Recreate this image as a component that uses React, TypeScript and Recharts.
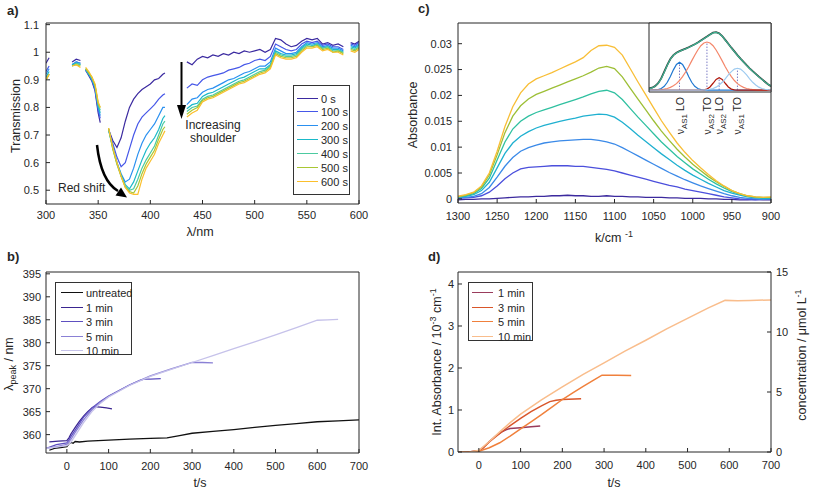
import React from "react";
import { LineChart, Line, XAxis, YAxis, ReferenceLine } from "recharts";

// ---------- panel a: transmission spectra ----------
const wavelengths = [
  300, 303, 310, 325, 329, 333, 336, 338, 341, 344, 347, 350, 352, 356,
  360, 364, 368, 372, 376, 380, 384, 388, 392, 396, 400, 404, 408, 412, 414, 425,
  435, 440, 445, 450, 455, 460, 465, 470, 475, 480, 485, 490, 495, 500, 505, 510, 515,
  520, 525, 530, 535, 540, 545, 550, 555, 560, 565, 570, 575, 580, 585, 590, 592, 596, 600,
];
const spectraNames = ["0 s", "100 s", "200 s", "300 s", "400 s", "500 s", "600 s"];
const trans0 = [
  0.96, 0.98, null, 0.965, 0.975, 0.97, null, 0.935, 0.915, 0.895, 0.86, 0.78, 0.745, null,
  0.72, 0.68, 0.655, 0.69, 0.75, 0.8, 0.83, 0.85, 0.865, 0.875, 0.885, 0.9, 0.905, 0.92, 0.925, null,
  0.965, 0.955, 0.975, 0.985, 0.98, 0.99, 0.985, 0.995, 0.99, 1.0, 0.995, 1.005, 1.0, 1.005, 1.01, 1.0, 1.01,
  1.05, 1.045, 1.03, 1.02, 1.025, 1.04, 1.05, 1.045, 1.05, 1.03, 1.035, 1.025, 1.03, 1.02, null, 1.035, 1.03, 1.04,
];
const trans100 = [
  0.93, 0.95, null, 0.955, 0.965, 0.96, null, 0.935, 0.92, 0.9, 0.865, 0.79, 0.76, null,
  0.72, 0.67, 0.62, 0.585, 0.6, 0.65, 0.7, 0.74, 0.765, 0.78, 0.795, 0.81, 0.83, 0.845, 0.85, null,
  0.87, 0.885, 0.88, 0.9, 0.91, 0.915, 0.92, 0.925, 0.935, 0.94, 0.945, 0.955, 0.96, 0.97, 0.975, 0.97, 0.985,
  1.03, 1.02, 1.01, 1.005, 1.01, 1.03, 1.04, 1.035, 1.04, 1.025, 1.03, 1.02, 1.02, 1.01, null, 1.03, 1.025, 1.035,
];
const trans200 = [
  0.92, 0.94, null, 0.955, 0.965, 0.96, null, 0.935, 0.92, 0.9, 0.87, 0.8, 0.77, null,
  0.72, 0.66, 0.6, 0.56, 0.53, 0.54, 0.58, 0.63, 0.67, 0.7, 0.72, 0.74, 0.77, 0.8, 0.8, null,
  0.81, 0.83, 0.835, 0.855, 0.865, 0.87, 0.88, 0.89, 0.9, 0.905, 0.915, 0.925, 0.93, 0.94, 0.95, 0.95, 0.965,
  1.015, 1.005, 0.995, 0.995, 1.0, 1.02, 1.035, 1.03, 1.035, 1.02, 1.025, 1.015, 1.015, 1.005, null, 1.025, 1.02, 1.03,
];
const trans300 = [
  0.91, 0.93, null, 0.955, 0.96, 0.955, null, 0.94, 0.92, 0.905, 0.875, 0.805, 0.78, null,
  0.72, 0.655, 0.6, 0.555, 0.52, 0.505, 0.53, 0.57, 0.61, 0.645, 0.67, 0.69, 0.72, 0.76, 0.77, null,
  0.795, 0.81, 0.815, 0.84, 0.85, 0.855, 0.865, 0.875, 0.885, 0.895, 0.905, 0.91, 0.92, 0.93, 0.94, 0.94, 0.955,
  1.005, 0.995, 0.99, 0.99, 0.995, 1.015, 1.03, 1.025, 1.03, 1.015, 1.02, 1.01, 1.01, 1.0, null, 1.02, 1.015, 1.025,
];
const trans400 = [
  0.9, 0.92, null, 0.95, 0.96, 0.955, null, 0.94, 0.925, 0.905, 0.88, 0.81, 0.79, null,
  0.72, 0.65, 0.595, 0.55, 0.515, 0.5, 0.505, 0.54, 0.58, 0.61, 0.635, 0.66, 0.7, 0.74, 0.75, null,
  0.785, 0.8, 0.805, 0.83, 0.84, 0.845, 0.855, 0.865, 0.875, 0.885, 0.895, 0.9, 0.91, 0.92, 0.93, 0.935, 0.95,
  1.0, 0.99, 0.985, 0.985, 0.99, 1.01, 1.025, 1.02, 1.03, 1.015, 1.02, 1.005, 1.005, 1.0, null, 1.015, 1.01, 1.02,
];
const trans500 = [
  0.9, 0.92, null, 0.95, 0.955, 0.95, null, 0.94, 0.925, 0.91, 0.88, 0.815, 0.8, null,
  0.725, 0.65, 0.595, 0.55, 0.51, 0.495, 0.49, 0.515, 0.56, 0.595, 0.62, 0.645, 0.685, 0.72, 0.73, null,
  0.775, 0.79, 0.8, 0.825, 0.835, 0.84, 0.85, 0.86, 0.87, 0.88, 0.89, 0.895, 0.905, 0.915, 0.925, 0.93, 0.945,
  0.995, 0.985, 0.98, 0.98, 0.985, 1.005, 1.02, 1.02, 1.025, 1.01, 1.015, 1.0, 1.005, 0.995, null, 1.01, 1.005, 1.015,
];
const trans600 = [
  0.9, 0.92, null, 0.95, 0.955, 0.945, null, 0.945, 0.93, 0.91, 0.885, 0.82, 0.8, null,
  0.725, 0.655, 0.6, 0.55, 0.51, 0.49, 0.485, 0.485, 0.54, 0.58, 0.605, 0.63, 0.67, 0.7, 0.715, null,
  0.765, 0.78, 0.79, 0.82, 0.83, 0.835, 0.845, 0.855, 0.865, 0.875, 0.885, 0.89, 0.9, 0.91, 0.92, 0.925, 0.94,
  0.99, 0.98, 0.975, 0.975, 0.98, 1.0, 1.015, 1.015, 1.02, 1.005, 1.01, 1.0, 1.0, 0.99, null, 1.005, 1.0, 1.01,
];
const transTicksX = [300, 350, 400, 450, 500, 550, 600];
const transTicksY = [0.5, 0.6, 0.7, 0.8, 0.9, 1, 1.1];

// ---------- panel c: IR absorbance ----------
const wavenumbers = [
  1300, 1290, 1280, 1270, 1260, 1250, 1240, 1230, 1220, 1210,
  1200, 1190, 1180, 1170, 1160, 1150, 1140, 1130, 1120, 1110,
  1100, 1090, 1080, 1070, 1060, 1050, 1040, 1030, 1020, 1010,
  1000, 990, 980, 970, 960, 950, 940, 930, 920, 910, 900,
];
const abs0 = [
  -0.0002, -0.0001, -0.0001, 0.0, 0.0, 0.0001, 0.0002, 0.0003, 0.0004, 0.0004,
  0.0005, 0.0005, 0.0006, 0.0006, 0.0007, 0.0006, 0.0006, 0.0005, 0.0005, 0.0006,
  0.0005, 0.0005, 0.0004, 0.0004, 0.0003, 0.0003, 0.0003, 0.0002, 0.0002, 0.0001,
  0.0001, 0.0001, 0.0, 0.0, -0.0001, -0.0001, -0.0002, -0.0002, -0.0001, -0.0002, -0.0002,
];
const abs100 = [
  0.0001, 0.0002, 0.0003, 0.0006, 0.0013, 0.0025, 0.0039, 0.005, 0.0058, 0.0061,
  0.0062, 0.0063, 0.0064, 0.0064, 0.0064, 0.0063, 0.0063, 0.0061, 0.0059, 0.0057,
  0.0054, 0.005, 0.0046, 0.0042, 0.0038, 0.0034, 0.003, 0.0026, 0.0023, 0.0019,
  0.0016, 0.0013, 0.001, 0.0007, 0.0004, 0.0002, 0.0, -0.0001, -0.0002, -0.0001, -0.0001,
];
const abs200 = [
  0.0002, 0.0003, 0.0005, 0.001, 0.0022, 0.0042, 0.0063, 0.008, 0.0092, 0.0099,
  0.0104, 0.0108, 0.011, 0.0112, 0.0113, 0.0114, 0.0115, 0.0115, 0.0113, 0.011,
  0.0106, 0.0099, 0.0091, 0.0083, 0.0075, 0.0067, 0.0059, 0.0051, 0.0044, 0.0037,
  0.0031, 0.0025, 0.002, 0.0015, 0.001, 0.0006, 0.0003, 0.0001, 0.0, -0.0001, 0.0,
];
const abs300 = [
  0.0003, 0.0005, 0.0008, 0.0016, 0.0032, 0.006, 0.0088, 0.0108, 0.0121, 0.013,
  0.0137, 0.0142, 0.0146, 0.015, 0.0153, 0.0156, 0.016, 0.0162, 0.0164, 0.0163,
  0.0158, 0.0148, 0.0136, 0.0123, 0.0111, 0.0099, 0.0087, 0.0076, 0.0065, 0.0055,
  0.0046, 0.0038, 0.003, 0.0023, 0.0016, 0.0011, 0.0007, 0.0004, 0.0002, 0.0001, 0.0001,
];
const abs400 = [
  0.0004, 0.0006, 0.001, 0.002, 0.004, 0.0075, 0.011, 0.0135, 0.015, 0.016,
  0.0167, 0.0172, 0.0177, 0.0182, 0.0187, 0.0192, 0.0197, 0.0203, 0.0208, 0.021,
  0.0205, 0.0192, 0.0175, 0.0158, 0.0142, 0.0126, 0.011, 0.0096, 0.0082, 0.007,
  0.0058, 0.0048, 0.0038, 0.0029, 0.0021, 0.0014, 0.0009, 0.0005, 0.0003, 0.0002, 0.0002,
];
const abs500 = [
  0.0004, 0.0007, 0.0012, 0.0023, 0.0046, 0.0085, 0.0128, 0.016, 0.018, 0.0193,
  0.0202, 0.0208, 0.0214, 0.022, 0.0226, 0.0232, 0.0238, 0.0245, 0.0253, 0.0256,
  0.0252, 0.0236, 0.0214, 0.0193, 0.0172, 0.0151, 0.0131, 0.0113, 0.0096, 0.0081,
  0.0067, 0.0055, 0.0043, 0.0033, 0.0024, 0.0016, 0.001, 0.0006, 0.0004, 0.0003, 0.0003,
];
const abs600 = [
  0.0005, 0.0008, 0.0013, 0.0025, 0.005, 0.0092, 0.014, 0.0178, 0.0205, 0.0222,
  0.0232, 0.0238, 0.0244, 0.0251, 0.0258, 0.0265, 0.0273, 0.0287, 0.0296, 0.0297,
  0.0293, 0.0278, 0.0252, 0.0226, 0.0201, 0.0176, 0.0151, 0.0129, 0.0108, 0.009,
  0.0074, 0.006, 0.0047, 0.0035, 0.0025, 0.0016, 0.001, 0.0006, 0.0004, 0.0003, 0.0004,
];
const absTicksX = [1300, 1250, 1200, 1150, 1100, 1050, 1000, 950, 900];
const absTicksY = [0, 0.005, 0.01, 0.015, 0.02, 0.025, 0.03];

// inset: band fit
const insetMeasured = [
  0.0008, 0.0012, 0.002, 0.0035, 0.006, 0.0095, 0.013, 0.016, 0.018, 0.0192,
  0.02, 0.0207, 0.0213, 0.022, 0.0228, 0.0236, 0.0245, 0.0255, 0.0265, 0.0275,
  0.0286, 0.0295, 0.0298, 0.0292, 0.0278, 0.0258, 0.0238, 0.0218, 0.0199, 0.018,
  0.0162, 0.0145, 0.0128, 0.0112, 0.0097, 0.0083, 0.0069, 0.0056, 0.0043, 0.003, 0.002,
];
const insetFit = [
  0.0006, 0.0011, 0.0019, 0.0034, 0.0058, 0.0092, 0.0128, 0.0158, 0.0179, 0.0191,
  0.0199, 0.0206, 0.0212, 0.0219, 0.0227, 0.0235, 0.0244, 0.0254, 0.0264, 0.0274,
  0.0285, 0.0294, 0.0297, 0.0291, 0.0277, 0.0257, 0.0237, 0.0217, 0.0198, 0.0179,
  0.0161, 0.0144, 0.0127, 0.0111, 0.0096, 0.0082, 0.0068, 0.0055, 0.0042, 0.003, 0.0021,
];
const bandLoAs1 = [
  0, 0, 0.0001, 0.0003, 0.0008, 0.0019, 0.004, 0.007, 0.0104, 0.0132,
  0.0143, 0.0132, 0.0104, 0.007, 0.004, 0.0019, 0.0008, 0.0003, 0.0001, 0,
  0, 0, 0, 0, 0, 0, 0, 0, 0, 0,
  0, 0, 0, 0, 0, 0, 0, 0, 0, 0, 0,
];
const bandToAs2 = [
  0, 0, 0, 0.0001, 0.0003, 0.0005, 0.0008, 0.0014, 0.0022, 0.0033,
  0.0049, 0.0069, 0.0093, 0.012, 0.015, 0.0179, 0.0206, 0.0228, 0.0242, 0.0247,
  0.0242, 0.0228, 0.0206, 0.0179, 0.015, 0.012, 0.0093, 0.0069, 0.0049, 0.0033,
  0.0022, 0.0014, 0.0008, 0.0005, 0.0003, 0.0001, 0, 0, 0, 0, 0,
];
const bandLoAs2 = [
  0, 0, 0, 0, 0, 0, 0, 0, 0, 0,
  0, 0, 0, 0, 0, 0, 0, 0, 0.0001, 0.0005,
  0.0016, 0.0035, 0.0055, 0.0064, 0.0055, 0.0035, 0.0016, 0.0005, 0.0001, 0,
  0, 0, 0, 0, 0, 0, 0, 0, 0, 0, 0,
];
const bandToAs1 = [
  0, 0, 0, 0, 0, 0, 0, 0, 0, 0,
  0, 0, 0, 0, 0, 0, 0, 0, 0.0001, 0.0002,
  0.0004, 0.0008, 0.0015, 0.0026, 0.004, 0.0058, 0.0078, 0.0095, 0.0108, 0.0112,
  0.0108, 0.0095, 0.0078, 0.0058, 0.004, 0.0026, 0.0015, 0.0008, 0.0004, 0.0002, 0.0001,
];
const bandCentres = [1200, 1110, 1070, 1010];
const bandModes = ["LO", "TO", "LO", "TO"];
const bandSymmetry = ["AS1", "AS2", "AS2", "AS1"];
const insetTopTicks = [1200, 1110, 1020, 930];
const insetTicksY = [0.01, 0.02, 0.03];

// ---------- panel b: peak position ----------
const peakNames = ["untreated", "1 min", "3 min", "5 min", "10 min"];
const peakTimes = [
  [-42, -30, -15, 0, 5, 10, 15, 20, 30, 50, 75, 100, 150, 200, 240, 270, 300, 350, 400, 450, 500, 550, 600, 650, 700],
  [-42, -20, 0, 5, 10, 20, 30, 40, 50, 60, 65, 80, 95, 108],
  [-50, -25, 0, 5, 10, 20, 40, 60, 80, 100, 125, 150, 175, 185, 200, 225],
  [-50, -25, 0, 10, 20, 40, 60, 80, 100, 150, 200, 250, 300, 325, 350],
  [-50, -25, 0, 10, 20, 40, 60, 80, 100, 150, 200, 250, 300, 350, 400, 450, 500, 550, 600, 625, 650],
];
const peakValues = [
  [356.6, 357.0, 357.2, 357.4, 358.0, 358.3, 358.1, 358.5, 358.4, 358.6, 358.7, 358.8, 359.0, 359.2, 359.3, 359.8, 360.3, 360.7, 361.1, 361.6, 362.0, 362.4, 362.8, 363.0, 363.2],
  [358.4, 358.6, 358.7, 359.3, 360.2, 361.6, 362.9, 364.0, 365.0, 365.8, 366.1, 366.0, 365.8, 365.6],
  [357.0, 357.8, 358.2, 358.8, 359.6, 361.0, 363.8, 365.8, 367.2, 368.4, 369.6, 370.8, 371.8, 372.1, 372.1, 372.2],
  [357.0, 357.4, 357.9, 359.0, 360.5, 363.2, 365.4, 367.0, 368.3, 370.8, 372.8, 374.3, 375.7, 375.7, 375.6],
  [357.0, 357.3, 357.6, 358.4, 359.8, 362.6, 365.0, 366.8, 368.2, 370.7, 372.7, 374.2, 375.7, 377.2, 378.7, 380.2, 381.7, 383.3, 384.9, 385.0, 385.1],
];
const timeTicks = [0, 100, 200, 300, 400, 500, 600, 700];
const peakTicksY = [360, 365, 370, 375, 380, 385, 390, 395];

// ---------- panel d: integrated absorbance ----------
const intNames = ["1 min", "3 min", "5 min", "10 min"];
const intTimes = [
  [-50, -25, 0, 10, 25, 40, 55, 65, 75, 100, 125, 147],
  [-50, -25, 0, 10, 25, 50, 75, 100, 125, 150, 170, 185, 200, 245],
  [-50, -25, 0, 25, 50, 75, 100, 125, 150, 175, 200, 225, 250, 275, 295, 330, 365],
  [-50, -25, 0, 25, 50, 75, 100, 150, 200, 250, 300, 350, 400, 450, 500, 550, 590, 620, 650, 700],
];
const intValues = [
  [0, 0, 0.03, 0.1, 0.25, 0.38, 0.48, 0.53, 0.56, 0.58, 0.6, 0.62],
  [0, 0, 0.03, 0.1, 0.24, 0.44, 0.63, 0.8, 0.96, 1.1, 1.2, 1.23, 1.25, 1.27],
  [0, 0, 0.02, 0.1, 0.22, 0.38, 0.55, 0.72, 0.89, 1.07, 1.25, 1.41, 1.56, 1.71, 1.83, 1.83, 1.82],
  [0, -0.01, 0.04, 0.25, 0.48, 0.7, 0.9, 1.24, 1.55, 1.85, 2.12, 2.4, 2.66, 2.93, 3.18, 3.43, 3.61, 3.6, 3.61, 3.62],
];
const intTicksY = [0, 1, 2, 3, 4];
const concTicksY = [0, 5, 10, 15];

// ---------- styling ----------
const FONT = '"Liberation Sans", Arial, Helvetica, sans-serif';
const INK = "#262626";
const spectraColors = ["#3b2aa0", "#4657e8", "#2a90f0", "#1ab9c9", "#4ccaa0", "#a9c733", "#fbbf2c"];
const absColors = ["#3c2a9e", "#4b4fdc", "#3b8ae8", "#1fb0d0", "#2fc0a0", "#9dbf36", "#f8be36"];
const peakColors = ["#111111", "#3a2590", "#5e50c0", "#8a80d5", "#c6c2ea"];
const intColors = ["#9a3c5c", "#d9562a", "#f0803c", "#f9bd8c"];
const bandColors = ["#1f77d0", "#f4866a", "#b0180c", "#9ecbf0"];
const tickStyle = { fill: INK, fontSize: 11, fontFamily: FONT };

const transSeries = [trans0, trans100, trans200, trans300, trans400, trans500, trans600];
const absSeries = [abs0, abs100, abs200, abs300, abs400, abs500, abs600];
const bandSeries = [bandLoAs1, bandToAs2, bandLoAs2, bandToAs1];

const transRows = wavelengths.map((x, i) => {
  const row: Record<string, number | null> = { x };
  transSeries.forEach((s, j) => (row["s" + j] = s[i]));
  return row;
});
const absRows = wavenumbers.map((k, i) => {
  const row: Record<string, number> = { k };
  absSeries.forEach((s, j) => (row["s" + j] = s[i]));
  return row;
});
const insetRows = wavenumbers.map((k, i) => {
  const row: Record<string, number> = { k, measured: insetMeasured[i], fit: insetFit[i] };
  bandSeries.forEach((s, j) => (row["b" + j] = s[i]));
  return row;
});
const peakRows = peakTimes.map((ts, j) => ts.map((t, i) => ({ t, v: peakValues[j][i] })));
const intRows = intTimes.map((ts, j) => ts.map((t, i) => ({ t, v: intValues[j][i] })));

// top and right frame axes with inward ticks
function frame(xDomain: number[], xTicks: number[], yDomain: number[], yTicks: number[], reversed = false, withRight = true) {
  const out = [
    <XAxis key="top" xAxisId="top" orientation="top" mirror type="number" domain={xDomain} ticks={xTicks}
      allowDataOverflow reversed={reversed} tick={false} tickSize={4} stroke={INK} />,
  ];
  if (withRight) {
    out.push(
      <YAxis key="right" yAxisId="right" orientation="right" mirror type="number" domain={yDomain} ticks={yTicks}
        allowDataOverflow tick={false} tickSize={4} stroke={INK} />
    );
  }
  return out;
}

function LegendBox({ left, top, width, height, names, colors, first, step, lineX, lineW, textX }: any) {
  return (
    <div style={{ position: "absolute", left, top, width, height, boxSizing: "border-box", border: "1px solid #333", background: "#fff", fontFamily: FONT, fontSize: 11, color: INK }}>
      {names.map((n: string, i: number) => (
        <div key={n} style={{ position: "absolute", left: 0, top: first + i * step - 7, height: 14, width: "100%" }}>
          <div style={{ position: "absolute", left: lineX, top: 6, width: lineW, borderTop: `1.5px solid ${colors[i]}` }} />
          <span style={{ position: "absolute", left: textX, top: 0, lineHeight: "14px", whiteSpace: "nowrap" }}>{n}</span>
        </div>
      ))}
    </div>
  );
}

function bandTick(props: any) {
  const { x, y, payload } = props;
  const i = bandCentres.indexOf(payload.value);
  if (i < 0) return <g />;
  return (
    <g transform={`translate(${x},${y}) rotate(-90)`}>
      <text x={-1} y={4} textAnchor="end" fontSize={10.5} fontFamily={FONT} fill={INK}>
        <tspan>ν</tspan>
        <tspan fontSize={8} dy={3}>{bandSymmetry[i]}</tspan>
        <tspan dy={-3}>{" " + bandModes[i]}</tspan>
      </text>
    </g>
  );
}

export default function App() {
  return (
    <div style={{ position: "absolute", left: 0, top: 0, width: 813, height: 490, background: "#fff" }}>
      {/* a */}
      <div style={{ position: "absolute", left: 0, top: 0 }}>
        <LineChart width={400} height={240} data={transRows} margin={{ top: 23, right: 41, bottom: 6, left: 6 }}>
          <XAxis dataKey="x" type="number" domain={[300, 600]} ticks={transTicksX} allowDataOverflow height={30}
            tickSize={-4} tickMargin={11} stroke={INK} tick={tickStyle} />
          <YAxis type="number" domain={[0.45, 1.106]} ticks={transTicksY} allowDataOverflow width={40}
            tickSize={-4} tickMargin={11} stroke={INK} tick={tickStyle} />
          {frame([300, 600], transTicksX, [0.45, 1.106], transTicksY)}
          {spectraNames.map((n, j) => (
            <Line key={n} dataKey={"s" + j} name={n} stroke={spectraColors[j]} strokeWidth={1.2} dot={false}
              type="linear" connectNulls={false} isAnimationActive={false} />
          ))}
        </LineChart>
      </div>
      {/* b */}
      <div style={{ position: "absolute", left: 0, top: 240 }}>
        <LineChart width={400} height={250} margin={{ top: 32, right: 41, bottom: 7, left: 6 }}>
          <XAxis dataKey="t" type="number" domain={[-50, 700]} ticks={timeTicks} allowDataOverflow height={30}
            tickSize={-4} tickMargin={13} stroke={INK} tick={tickStyle} />
          <YAxis type="number" domain={[356, 395.4]} ticks={peakTicksY} allowDataOverflow width={40}
            tickSize={-4} tickMargin={9} stroke={INK} tick={tickStyle} />
          {frame([-50, 700], timeTicks, [356, 395.4], peakTicksY)}
          {peakNames.map((n, j) => (
            <Line key={n} data={peakRows[j]} dataKey="v" name={n} stroke={peakColors[j]} strokeWidth={1.3} dot={false}
              type="linear" isAnimationActive={false} />
          ))}
        </LineChart>
      </div>
      {/* c */}
      <div style={{ position: "absolute", left: 400, top: 0 }}>
        <LineChart width={413} height={240} data={absRows} margin={{ top: 23, right: 42, bottom: 7, left: 18 }}>
          <XAxis dataKey="k" type="number" domain={[900, 1300]} reversed ticks={absTicksX} allowDataOverflow height={30}
            tickSize={-4} tickMargin={13} stroke={INK} tick={tickStyle} />
          <YAxis type="number" domain={[-0.0008, 0.034]} ticks={absTicksY} allowDataOverflow width={40}
            tickSize={-4} tickMargin={10} stroke={INK} tick={tickStyle} />
          {frame([900, 1300], absTicksX, [-0.0008, 0.034], absTicksY, true)}
          {spectraNames.map((n, j) => (
            <Line key={n} dataKey={"s" + j} name={n} stroke={absColors[j]} strokeWidth={1.3} dot={false}
              type="linear" isAnimationActive={false} />
          ))}
        </LineChart>
      </div>
      {/* c inset */}
      <div style={{ position: "absolute", left: 649, top: 23, width: 122, height: 69, background: "#fff" }} />
      <div style={{ position: "absolute", left: 648, top: 22 }}>
        <LineChart width={124} height={116} data={insetRows} margin={{ top: 1, right: 1, bottom: 0, left: 1 }}>
          <XAxis dataKey="k" type="number" domain={[900, 1300]} reversed ticks={bandCentres} interval={0} allowDataOverflow
            height={46} tickLine={false} tickSize={0} tickMargin={4} stroke={INK} tick={bandTick} />
          <YAxis type="number" domain={[-0.001, 0.0345]} ticks={insetTicksY} allowDataOverflow mirror width={30}
            tick={false} tickSize={3} stroke={INK} />
          {frame([900, 1300], insetTopTicks, [-0.001, 0.0345], insetTicksY, true)}
          {bandCentres.map((c, j) => (
            <ReferenceLine key={c} segment={[{ x: c, y: 0 }, { x: c, y: Math.max(...bandSeries[j]) }]}
              stroke="#7c7cc4" strokeDasharray="1.5 1.5" strokeWidth={1} />
          ))}
          {bandSeries.map((_, j) => (
            <Line key={j} dataKey={"b" + j} stroke={bandColors[j]} strokeWidth={1.2} dot={false} type="linear" isAnimationActive={false} />
          ))}
          <Line dataKey="measured" stroke="#333" strokeWidth={1.8} dot={false} type="linear" isAnimationActive={false} />
          <Line dataKey="fit" stroke="#3cb492" strokeWidth={1.2} dot={false} type="linear" isAnimationActive={false} />
        </LineChart>
      </div>
      {/* d */}
      <div style={{ position: "absolute", left: 400, top: 240 }}>
        <LineChart width={413} height={250} margin={{ top: 32, right: 2, bottom: 8, left: 18 }}>
          <XAxis dataKey="t" type="number" domain={[-50, 700]} ticks={timeTicks} allowDataOverflow height={30}
            tickSize={-4} tickMargin={13} stroke={INK} tick={tickStyle} />
          <YAxis type="number" domain={[0, 4.2857]} ticks={intTicksY} allowDataOverflow width={40}
            tickSize={-4} tickMargin={8} stroke={INK} tick={tickStyle} />
          <YAxis yAxisId="conc" orientation="right" type="number" domain={[0, 15]} ticks={concTicksY} allowDataOverflow width={40}
            tickSize={-4} tickMargin={9} stroke={INK} tick={tickStyle} />
          {frame([-50, 700], timeTicks, [0, 4.2857], intTicksY, false, false)}
          {intNames.map((n, j) => (
            <Line key={n} data={intRows[j]} dataKey="v" name={n} stroke={intColors[j]} strokeWidth={1.5} dot={false}
              type="linear" isAnimationActive={false} />
          ))}
        </LineChart>
      </div>

      <LegendBox left={293} top={85} width={57} height={110} names={spectraNames} colors={spectraColors}
        first={12.5} step={13.9} lineX={3} lineW={21} textX={27} />
      <LegendBox left={55} top={282} width={77} height={73} names={peakNames} colors={peakColors}
        first={10} step={14.6} lineX={5} lineW={22} textX={30} />
      <LegendBox left={468} top={282} width={65} height={59} names={intNames} colors={intColors}
        first={10} step={14.6} lineX={3} lineW={21} textX={29} />

      <svg width={813} height={490} style={{ position: "absolute", left: 0, top: 0, pointerEvents: "none" }}
        fontFamily={FONT} fill={INK}>
        <text x={7} y={15} fontSize={13} fontWeight="bold">a)</text>
        <text x={7} y={261} fontSize={13} fontWeight="bold">b)</text>
        <text x={418} y={13} fontSize={13} fontWeight="bold">c)</text>
        <text x={428} y={261} fontSize={13} fontWeight="bold">d)</text>

        <text transform="translate(19.5,116) rotate(-90)" textAnchor="middle" fontSize={12.5}>Transmission</text>
        <text x={200} y={236} textAnchor="middle" fontSize={12.5}>λ/nm</text>
        <text transform="translate(13,364) rotate(-90)" textAnchor="middle" fontSize={12.5}>
          <tspan>λ</tspan><tspan fontSize={9} dy={3}>peak</tspan><tspan dy={-3}> / nm</tspan>
        </text>
        <text x={200} y={487} textAnchor="middle" fontSize={12.5}>t/s</text>
        <text transform="translate(416.5,115) rotate(-90)" textAnchor="middle" fontSize={12.5}>Absorbance</text>
        <text x={614} y={242} textAnchor="middle" fontSize={12.5}>
          <tspan>k/cm </tspan><tspan fontSize={9} dy={-5}>-1</tspan>
        </text>
        <text transform="translate(441,362) rotate(-90)" textAnchor="middle" fontSize={12.5}>
          <tspan>Int. Absorbance /  10</tspan><tspan fontSize={9} dy={-5}>-3</tspan><tspan dy={5}> cm</tspan><tspan fontSize={9} dy={-5}>-1</tspan>
        </text>
        <text transform="translate(806,355) rotate(-90)" textAnchor="middle" fontSize={12.5}>
          <tspan>concentration  /  μmol  L</tspan><tspan fontSize={9} dy={-5}>-1</tspan>
        </text>
        <text x={614} y={487} textAnchor="middle" fontSize={12.5}>t/s</text>

        {/* annotations of panel a */}
        <line x1={181.5} y1={62} x2={181.5} y2={107} stroke="#000" strokeWidth={2} />
        <polygon points="177,105 186,105 181.5,119" fill="#000" />
        <text x={213} y={129} textAnchor="middle" fontSize={12}>Increasing</text>
        <text x={213} y={142} textAnchor="middle" fontSize={12}>shoulder</text>
        <path d="M97,145 Q101,181 118,191" stroke="#000" strokeWidth={2.5} fill="none" />
        <polygon points="115.5,195.5 121,187.5 127,197.5" fill="#000" />
        <text x={58} y={192} fontSize={12}>Red shift</text>
      </svg>
    </div>
  );
}
